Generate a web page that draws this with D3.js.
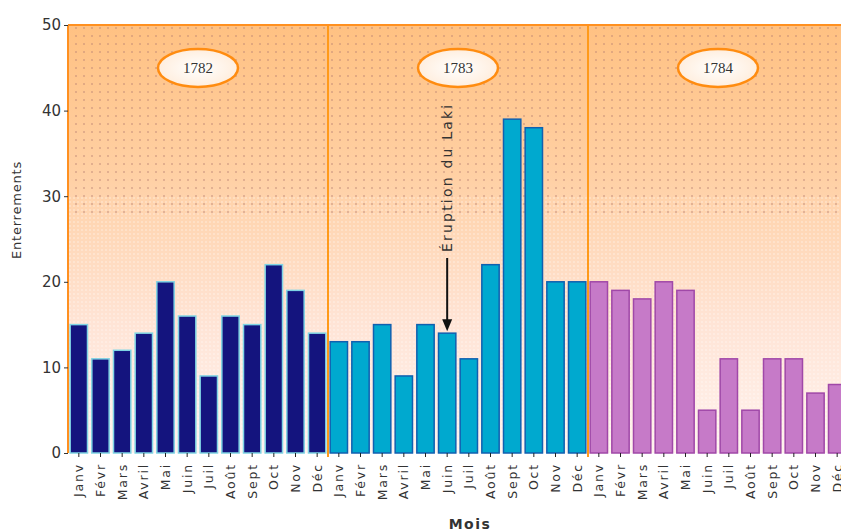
<!DOCTYPE html>
<html><head><meta charset="utf-8">
<script src="https://cdn.jsdelivr.net/npm/d3@7"></script>
<style>body{margin:0;background:#fff}svg{display:block}</style>
</head><body>
<script>
const years = ["1782","1783","1784"];
const months = ["Janv","Févr","Mars","Avril","Mai","Juin","Juil","Août","Sept","Oct","Nov","Déc"];
const values1782 = [15,11,12,14,20,16,9,16,15,22,19,14];
const values1783 = [13,13,15,9,15,14,11,22,39,38,20,20];
const values1784 = [20,19,18,20,19,5,11,5,11,11,7,8];
const yTicks = [0,10,20,30,40,50];
const annotation = {label:"Éruption du Laki", year:"1783", month:"Juin"};

const W=841,H=531;
const margin={left:68,top:25,bottom:78};
const plotRight = 848;
const svg=d3.select("body").append("svg").attr("width",W).attr("height",H);

const data=[];
[values1782,values1783,values1784].forEach((arr,yi)=>arr.forEach((v,mi)=>data.push({year:years[yi],month:months[mi],key:years[yi]+"-"+months[mi],v,yi})));

const x=d3.scaleBand().domain(data.map(d=>d.key)).range([margin.left,plotRight]).paddingInner(0.2).paddingOuter(0.1);
const y=d3.scaleLinear().domain([0,50]).range([H-margin.bottom,margin.top]);

const defs=svg.append("defs");
const g=defs.append("linearGradient").attr("id","bg").attr("x1",0).attr("y1",0).attr("x2",0).attr("y2",1);
g.append("stop").attr("offset","0%").attr("stop-color","#ffc182");
g.append("stop").attr("offset","35%").attr("stop-color","#ffd0a4");
g.append("stop").attr("offset","70%").attr("stop-color","#ffe4d6");
g.append("stop").attr("offset","100%").attr("stop-color","#fff3ee");
const pat=defs.append("pattern").attr("id","dots").attr("width",8).attr("height",8).attr("patternUnits","userSpaceOnUse");
pat.append("circle").attr("cx",4).attr("cy",4).attr("r",1).attr("fill","#b88070").attr("opacity",0.55);
const pat2=defs.append("pattern").attr("id","dots2").attr("width",4).attr("height",4).attr("patternUnits","userSpaceOnUse");
pat2.append("circle").attr("cx",2).attr("cy",2).attr("r",0.8).attr("fill","#ffffff").attr("opacity",0.55);
const eg=defs.append("radialGradient").attr("id","ell");
eg.append("stop").attr("offset","0%").attr("stop-color","#ffffff");
eg.append("stop").attr("offset","100%").attr("stop-color","#ffeede");

const y0=y(0), yTop=y(50);
svg.append("rect").attr("x",margin.left).attr("y",yTop).attr("width",plotRight-margin.left).attr("height",y0-yTop).attr("fill","url(#bg)");
svg.append("rect").attr("x",margin.left).attr("y",yTop).attr("width",plotRight-margin.left).attr("height",(y0-yTop)*0.45).attr("fill","url(#dots)");
svg.append("rect").attr("x",margin.left).attr("y",yTop+(y0-yTop)*0.4).attr("width",plotRight-margin.left).attr("height",(y0-yTop)*0.6).attr("fill","url(#dots2)");

const step=x.step();
const yearStart=yi=>x(years[yi]+"-"+months[0])-x.paddingOuter()*step;
[1,2].forEach(yi=>{
  const xx=yearStart(yi);
  svg.append("line").attr("x1",xx).attr("x2",xx).attr("y1",yTop).attr("y2",y0+4).attr("stroke","#ff9a1a").attr("stroke-width",2);
});
svg.append("line").attr("x1",margin.left).attr("x2",plotRight).attr("y1",yTop).attr("y2",yTop).attr("stroke","#ff9020").attr("stroke-width",2);
svg.append("line").attr("x1",margin.left).attr("x2",margin.left).attr("y1",yTop).attr("y2",y0).attr("stroke","#ff9020").attr("stroke-width",2);

const fills=["#14147e","#00a9cf","#c67ac8"];
const strokes=["#7fd4e4","#1060b0","#a048a8"];
svg.append("g").selectAll("rect").data(data).join("rect")
  .attr("x",d=>x(d.key)).attr("width",x.bandwidth())
  .attr("y",d=>y(d.v)).attr("height",d=>y0-y(d.v))
  .attr("fill",d=>fills[d.yi]).attr("stroke",d=>strokes[d.yi]).attr("stroke-width",1.5);

years.forEach((yr,yi)=>{
  const cx=yearStart(yi)+6*step;
  svg.append("ellipse").attr("cx",cx).attr("cy",68).attr("rx",40).attr("ry",19).attr("fill","url(#ell)").attr("stroke","#ff8c10").attr("stroke-width",2.5);
  svg.append("text").attr("x",cx).attr("y",73).attr("text-anchor","middle").attr("font-family","Liberation Serif, serif").attr("font-size",15).attr("fill","#333").text(yr);
});

const yAxis=d3.axisLeft(y).tickValues(yTicks).tickSize(4).tickPadding(3);
const ya=svg.append("g").attr("transform",`translate(${margin.left},0)`).call(yAxis);
ya.select(".domain").remove();
ya.selectAll("text").attr("font-family","DejaVu Sans, sans-serif").attr("font-size",15).attr("fill","#333");
ya.selectAll("line").attr("stroke","#333");

const xAxis=d3.axisBottom(x).tickFormat(k=>k.split("-")[1]).tickSize(4).tickPadding(3);
const xa=svg.append("g").attr("transform",`translate(0,${y0})`).call(xAxis);
xa.select(".domain").remove();
xa.selectAll("line").attr("stroke","#222");
xa.selectAll(".tick text").attr("font-family","DejaVu Sans, sans-serif").attr("font-size",12.5).attr("letter-spacing","1.8px").attr("fill","#333")
  .attr("transform","rotate(-90)").attr("text-anchor","end").attr("x",-10).attr("y",0).attr("dy","0.35em");

svg.append("text").attr("transform",`translate(21,210) rotate(-90)`).attr("text-anchor","middle").attr("font-family","DejaVu Sans, sans-serif").attr("font-size",13).attr("letter-spacing","0.8px").attr("fill","#333").text("Enterrements");
svg.append("text").attr("x",470).attr("y",529).attr("text-anchor","middle").attr("font-family","DejaVu Sans, sans-serif").attr("font-weight","bold").attr("font-size",14).attr("letter-spacing","1.5px").attr("fill","#333").text("Mois");

const ax=x(annotation.year+"-"+annotation.month)+x.bandwidth()/2;
const ad=data.find(d=>d.year===annotation.year&&d.month===annotation.month);
svg.append("text").attr("transform",`translate(${ax+5},252) rotate(-90)`).attr("text-anchor","start").attr("font-family","DejaVu Sans, sans-serif").attr("font-size",14).attr("letter-spacing","2.2px").attr("fill","#333").text(annotation.label);
svg.append("line").attr("x1",ax).attr("x2",ax).attr("y1",258).attr("y2",y(ad.v)-10).attr("stroke","#111").attr("stroke-width",2);
svg.append("path").attr("d",`M${ax-5},${y(ad.v)-14} L${ax+5},${y(ad.v)-14} L${ax},${y(ad.v)-2} Z`).attr("fill","#111");
</script>
</body></html>
